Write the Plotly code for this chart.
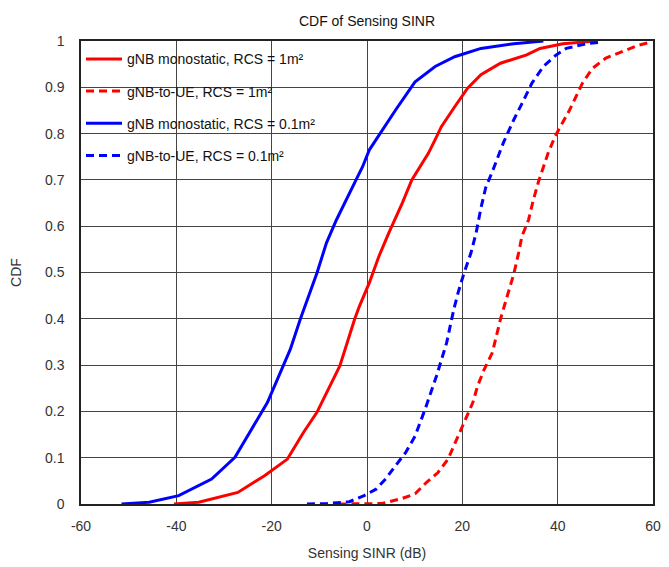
import plotly.graph_objects as go

# gNB monostatic, RCS = 1 m^2 (red solid)
mono1_x = [-40.5, -35.3, -27.1, -21.5, -16.7, -13.3, -10.5, -8.5, -5.7, -2.6, -1.6, 0.5, 2.5, 4.6, 7.4,
           9.4, 10.8, 12.9, 14.3, 15.6, 18.4, 21.1, 23.9, 28.0, 33.5, 36.3, 41.1, 48.0]
mono1_y = [0.0, 0.004, 0.025, 0.061, 0.097, 0.155, 0.198, 0.241, 0.298, 0.399, 0.427, 0.478, 0.535, 0.586, 0.650,
           0.700, 0.722, 0.758, 0.787, 0.815, 0.858, 0.898, 0.927, 0.952, 0.970, 0.984, 0.994, 1.0]

# gNB-to-UE, RCS = 1 m^2 (red dashed)
ue1_x = [-6.0, 3.2, 7.4, 10.1, 12.5, 14.9, 17.0, 19.9, 20.8, 22.2, 23.2, 24.6, 26.3, 28.0, 29.1, 29.8,
         30.8, 31.8, 32.5, 33.9, 34.9, 36.0, 38.0, 39.5, 42.5, 45.2, 47.3, 50.1, 53.5, 57.0, 59.7]
ue1_y = [0.0, 0.001, 0.012, 0.022, 0.047, 0.068, 0.097, 0.165, 0.187, 0.219, 0.255, 0.291, 0.327, 0.399, 0.438, 0.463,
         0.497, 0.542, 0.578, 0.614, 0.657, 0.697, 0.758, 0.795, 0.851, 0.909, 0.941, 0.963, 0.977, 0.991, 0.998]

# gNB monostatic, RCS = 0.1 m^2 (blue solid)
mono01_x = [-51.5, -45.7, -39.5, -32.6, -27.7, -22.9, -20.9, -18.8, -16.1, -14.0, -12.3, -10.5, -8.5, -6.4,
            -2.3, -0.9, 0.5, 3.2, 6.0, 8.7, 10.1, 14.3, 18.4, 23.9, 30.8, 37.0]
mono01_y = [0.0, 0.004, 0.018, 0.054, 0.101, 0.183, 0.219, 0.269, 0.334, 0.399, 0.449, 0.499, 0.564, 0.614,
            0.700, 0.729, 0.765, 0.808, 0.851, 0.891, 0.912, 0.945, 0.966, 0.984, 0.994, 1.0]

# gNB-to-UE, RCS = 0.1 m^2 (blue dashed)
ue01_x = [-12.6, -8.5, -3.7, -0.6, 1.9, 3.9, 6.0, 8.1, 10.1, 12.2, 14.6, 16.7, 18.2, 19.1, 20.3, 21.8,
          22.9, 23.9, 24.9, 26.3, 28.6, 30.8, 32.9, 34.6, 37.0, 39.7, 41.8, 45.9, 49.4]
ue01_y = [0.0, 0.001, 0.005, 0.018, 0.032, 0.054, 0.083, 0.111, 0.147, 0.205, 0.277, 0.348, 0.420, 0.456, 0.497, 0.542,
          0.586, 0.639, 0.683, 0.718, 0.780, 0.830, 0.873, 0.909, 0.945, 0.970, 0.984, 0.994, 0.998]

x_ticks = [-60, -40, -20, 0, 20, 40, 60]
x_tick_text = ["-60", "-40", "-20", "0", "20", "40", "60"]
y_ticks = [0, 0.1, 0.2, 0.3, 0.4, 0.5, 0.6, 0.7, 0.8, 0.9, 1]
y_tick_text = ["0", "0.1", "0.2", "0.3", "0.4", "0.5", "0.6", "0.7", "0.8", "0.9", "1"]

FONT = "Liberation Sans, Arial, sans-serif"
RED = "#FF0000"
BLUE = "#0000FF"
DASH = "8px,5px"

fig = go.Figure()
series = [
    (mono1_x, mono1_y, "gNB monostatic, RCS = 1m²", RED, "solid"),
    (ue1_x, ue1_y, "gNB-to-UE, RCS = 1m²", RED, DASH),
    (mono01_x, mono01_y, "gNB monostatic, RCS = 0.1m²", BLUE, "solid"),
    (ue01_x, ue01_y, "gNB-to-UE, RCS = 0.1m²", BLUE, DASH),
]
for i, (xs, ys, name, color, dash) in enumerate(series):
    fig.add_trace(go.Scatter(
        x=xs, y=ys, mode="lines", name=name, legendgroup=f"g{i}",
        line=dict(color=color, width=3, dash=dash),
    ))

fig.update_layout(
    width=669, height=567,
    margin=dict(l=81, r=8, t=41, b=62),
    paper_bgcolor="white", plot_bgcolor="white",
    font=dict(family=FONT, size=13, color="#333333"),
    title=dict(text="CDF of Sensing SINR", x=0.5, xanchor="center", y=0.962, yanchor="middle",
               xref="paper", font=dict(size=14, color="#111111")),
    showlegend=True,
    legend=dict(x=0.0, y=0.995, xanchor="left", yanchor="top", bgcolor="rgba(0,0,0,0)",
                borderwidth=0, font=dict(size=14, color="#111111"),
                tracegroupgap=11, traceorder="grouped", itemwidth=36),
    xaxis=dict(range=[-60, 60], tickvals=x_ticks, ticktext=x_tick_text, showgrid=True,
               gridcolor="#444444", gridwidth=1,
               showline=True, linecolor="#222222", linewidth=1.5, mirror=True, zeroline=False,
               ticks="", ticklabelstandoff=8,
               title=dict(text="Sensing SINR (dB)", font=dict(size=14), standoff=16),
               tickfont=dict(size=14)),
    yaxis=dict(range=[0, 1], tickvals=y_ticks, ticktext=y_tick_text, showgrid=True, gridcolor="#444444",
               gridwidth=1, showline=True, linecolor="#222222", linewidth=1.5, mirror=True, zeroline=False,
               ticks="", ticklabelstandoff=12,
               title=dict(text="CDF", font=dict(size=14), standoff=20),
               tickfont=dict(size=14)),
)

fig.write_html("out.html")
